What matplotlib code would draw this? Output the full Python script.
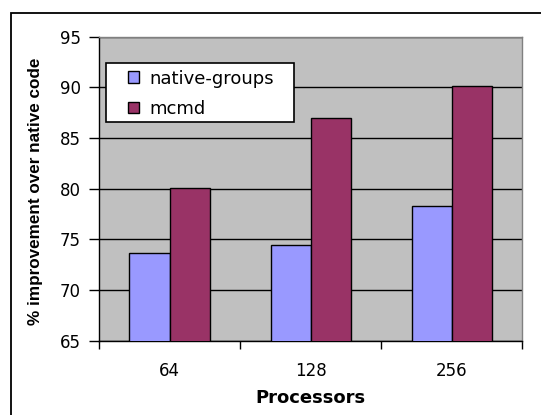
import matplotlib
matplotlib.use("Agg")
import matplotlib.pyplot as plt
from matplotlib.patches import Rectangle
import numpy as np

categories = ["64", "128", "256"]
native_groups = [73.7, 74.4, 78.3]
mcmd = [80.1, 87.0, 90.1]
series_labels = ["native-groups", "mcmd"]
yticks = [65, 70, 75, 80, 85, 90, 95]

plt.rcParams['font.family'] = ['DejaVu Sans']

W, H = 541, 415
fig = plt.figure(figsize=(W / 100, H / 100), dpi=100)
# outer chart-area border
fig.patches.append(Rectangle((10.7 / W, -0.05), 1.2, 1 - 13.3 / H + 0.05, transform=fig.transFigure,
                             fill=False, edgecolor='black', linewidth=1.3))

ax = fig.add_axes([99 / W, 1 - 340.7 / H, (522.3 - 99) / W, (340.7 - 36.7) / H])
ax.set_facecolor('#C0C0C0')

x = np.arange(len(categories))
w = 0.284
ax.bar(x - w / 2, native_groups, w, color='#9999FF', edgecolor='black', linewidth=1.0,
       label=series_labels[0], zorder=3)
ax.bar(x + w / 2, mcmd, w, color='#993366', edgecolor='black', linewidth=1.0,
       label=series_labels[1], zorder=3)

ax.set_ylim(yticks[0], yticks[-1])
ax.set_xlim(-0.5, len(categories) - 0.5)
ax.set_yticks(yticks)
ax.yaxis.grid(True, color='black', linewidth=1.0, zorder=1)
ax.set_axisbelow(True)

ax.set_xticks(x)
ax.set_xticklabels(categories)
ax.set_xticks(np.arange(len(categories) + 1) - 0.5, minor=True)
ax.tick_params(axis='x', which='major', length=0, pad=15, labelsize=12)
ax.tick_params(axis='x', which='minor', length=6, width=1, color='black', direction='out')
ax.tick_params(axis='y', length=7, width=1, direction='out', labelsize=12, pad=6)

for s in ['top', 'right']:
    ax.spines[s].set_color('#808080')
    ax.spines[s].set_linewidth(1.0)
for s in ['left', 'bottom']:
    ax.spines[s].set_color('black')
    ax.spines[s].set_linewidth(1.0)

ax.set_xlabel('Processors', fontsize=13, fontweight='bold')
ax.xaxis.set_label_coords(0.5, -(398 - 340.7) / 304, transform=ax.transAxes)
ax.xaxis.label.set_va('center')
ax.set_ylabel('% improvement over native code', fontsize=12.3, fontweight='bold',
              family=['Liberation Sans', 'DejaVu Sans'])
ax.yaxis.set_label_coords(-(99 - 36) / 423.3, (340.7 - 191) / 304, transform=ax.transAxes)
ax.yaxis.label.set_va('center')

# legend frame
ax.add_patch(Rectangle((106 / W, 1 - 121.7 / H), 188 / W, 59 / H, transform=fig.transFigure,
                       facecolor='white', edgecolor='black', linewidth=1.2, zorder=4,
                       clip_on=False))
leg = ax.legend(loc='upper left', bbox_to_anchor=(127.7 / W, 1 - 69.5 / H),
                bbox_transform=fig.transFigure, borderaxespad=0, borderpad=0,
                fontsize=13, frameon=False,
                handlelength=0.63, handleheight=0.63, handletextpad=0.55,
                labelspacing=0.68)
leg.set_zorder(5)

fig.savefig('out.png', dpi=100)
